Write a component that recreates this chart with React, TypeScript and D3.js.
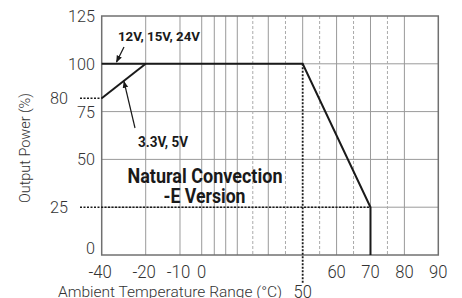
import React from 'react'
import * as d3 from 'd3'

// derating curve, temperature (°C) vs output power (%)
const highVoltage = [
  {t: -40, p: 100},
  {t: 50, p: 100},
  {t: 70, p: 25},
  {t: 70, p: 0},
]
const lowVoltage = [
  {t: -40, p: 82},
  {t: -20, p: 100},
]

// axis ticks and grid lines
const xTickLabels = [-40, -20, -10, 0, 60, 70, 80, 90]
const xSolidGrid = [-20, -10, 0, 10, 20, 30, 40, 60, 70, 80]
const xDashedGrid = [35, 45, 55, 65, 75]
const yTickLabels = [0, 50, 75, 100, 125]
const yGrid = [25, 50, 75, 100]
const markTemp = 50
const markPower = 25

// the x axis of the original is not linear
const xBreaks = [-40, -20, -10, 0, 10, 20, 30, 40, 50, 90]
const xBreakPos = [0, 0.1307, 0.2326, 0.2971, 0.3345, 0.3684, 0.4028, 0.4949, 0.5971, 1]

const W = 462
const H = 298
const left = 101.7
const right = 438.3
const top = 16
const bottom = 255

const lightFont = 'Roboto, "Liberation Sans", sans-serif'

function Txt(props: any) {
  const {len, children, ...rest} = props
  return (
    <text textLength={len} lengthAdjust="spacingAndGlyphs" {...rest}>
      {children}
    </text>
  )
}

export default function App() {
  const x = d3.scaleLinear()
    .domain(xBreaks)
    .range(xBreakPos.map(f => left + f * (right - left)))
  const y = d3.scaleLinear().domain([0, 125]).range([bottom, top])

  const line = d3.line<{t: number, p: number}>()
    .x(d => x(d.t))
    .y(d => y(d.p))

  const labelLen = (v: number) => String(v).replace('-', '').length * 9.2 + (v < 0 ? 5 : 0)

  return (
    <svg width={W} height={H} style={{position: 'absolute', left: 0, top: 0}}>
      <defs>
        <marker id="ah" viewBox="0 0 10 10" refX="9" refY="5" markerWidth="7" markerHeight="7"
          orient="auto-start-reverse" markerUnits="userSpaceOnUse">
          <path d="M0,1 L10,5 L0,9 Z" fill="#1a1a1a" />
        </marker>
      </defs>

      {/* grid */}
      {yGrid.map(v => (
        <line key={'gy' + v} x1={left} x2={right} y1={y(v)} y2={y(v)} stroke="#9a9a9a" strokeWidth={1} />
      ))}
      {xSolidGrid.map(v => (
        <line key={'gx' + v} x1={x(v)} x2={x(v)} y1={top} y2={bottom} stroke="#9a9a9a" strokeWidth={1} />
      ))}
      <line x1={x(markTemp)} x2={x(markTemp)} y1={top} y2={y(100)} stroke="#9a9a9a" strokeWidth={1} />
      {xDashedGrid.map(v => (
        <line key={'gd' + v} x1={x(v)} x2={x(v)} y1={top} y2={bottom} stroke="#aaa"
          strokeWidth={1} strokeDasharray="3,2" />
      ))}

      {/* frame */}
      <rect x={left} y={top} width={right - left} height={bottom - top} fill="none" stroke="#707070" strokeWidth={1.5} />

      {/* dotted guides */}
      <line x1={80} x2={x(70)} y1={y(markPower)} y2={y(markPower)} stroke="#1a1a1a" strokeWidth={1.5} strokeDasharray="2,1.5" />
      <line x1={80} x2={x(-40)} y1={y(lowVoltage[0].p)} y2={y(lowVoltage[0].p)} stroke="#1a1a1a" strokeWidth={1.5} strokeDasharray="2,1.5" />
      <line x1={x(markTemp)} x2={x(markTemp)} y1={y(100)} y2={284} stroke="#1a1a1a" strokeWidth={1.8} strokeDasharray="2,1.5" />

      {/* curves */}
      <path d={line(highVoltage) || ''} fill="none" stroke="#1a1a1a" strokeWidth={2} />
      <path d={line(lowVoltage) || ''} fill="none" stroke="#1a1a1a" strokeWidth={2} />

      {/* y tick labels */}
      {yTickLabels.map(v => (
        <Txt key={'yl' + v} x={95} y={y(v) + (v === 0 ? -1 : 6)} textAnchor="end" fontFamily={lightFont} fontWeight={300}
          fontSize={16} fill="#333" len={String(v).length * 9}>{v}</Txt>
      ))}
      <Txt x={68} y={y(markPower) + 6} textAnchor="end" fontFamily={lightFont} fontWeight={300}
        fontSize={16} fill="#333" len={18}>{markPower}</Txt>
      <Txt x={68} y={y(lowVoltage[0].p) + 6} textAnchor="end" fontFamily={lightFont} fontWeight={300}
        fontSize={16} fill="#333" len={18}>80</Txt>

      {/* x tick labels */}
      {xTickLabels.map(v => (
        <Txt key={'xl' + v} x={x(v) + (v < 0 ? -1.5 : 0)} y={278} textAnchor="middle" fontFamily={lightFont} fontWeight={300}
          fontSize={17.5} fill="#333" len={labelLen(v)}>{v}</Txt>
      ))}
      <Txt x={x(markTemp)} y={298} textAnchor="middle" fontFamily={lightFont} fontWeight={300}
        fontSize={17.5} fill="#333" len={18.3}>{markTemp}</Txt>

      {/* axis titles */}
      <Txt x={170} y={296.5} textAnchor="middle" fontFamily={lightFont} fontWeight={300}
        fontSize={15} fill="#333" len={224}>Ambient Temperature Range (°C)</Txt>
      <Txt transform="translate(30,148) rotate(-90)" x={0} y={0} textAnchor="middle" fontFamily={lightFont}
        fontWeight={300} fontSize={15} fill="#333" len={110}>Output Power (%)</Txt>

      {/* annotations */}
      <Txt x={118} y={40.7} fontFamily={lightFont} fontWeight={700} fontSize={13.5} fill="#1a1a1a" len={82}>12V, 15V, 24V</Txt>
      <line x1={124} y1={47} x2={116.5} y2={62} stroke="#1a1a1a" strokeWidth={1.2} markerEnd="url(#ah)" />
      <Txt x={138} y={146.5} fontFamily={lightFont} fontWeight={700} fontSize={14} fill="#1a1a1a" len={50}>3.3V, 5V</Txt>
      <line x1={135} y1={128} x2={124} y2={81.5} stroke="#1a1a1a" strokeWidth={1.2} markerEnd="url(#ah)" />

      <Txt x={205} y={183} textAnchor="middle" fontFamily={lightFont} fontWeight={700} fontSize={21}
        fill="#1a1a1a" len={155}>Natural Convection</Txt>
      <Txt x={204.5} y={203} textAnchor="middle" fontFamily={lightFont} fontWeight={700} fontSize={21}
        fill="#1a1a1a" len={82}>-E Version</Txt>
    </svg>
  )
}
